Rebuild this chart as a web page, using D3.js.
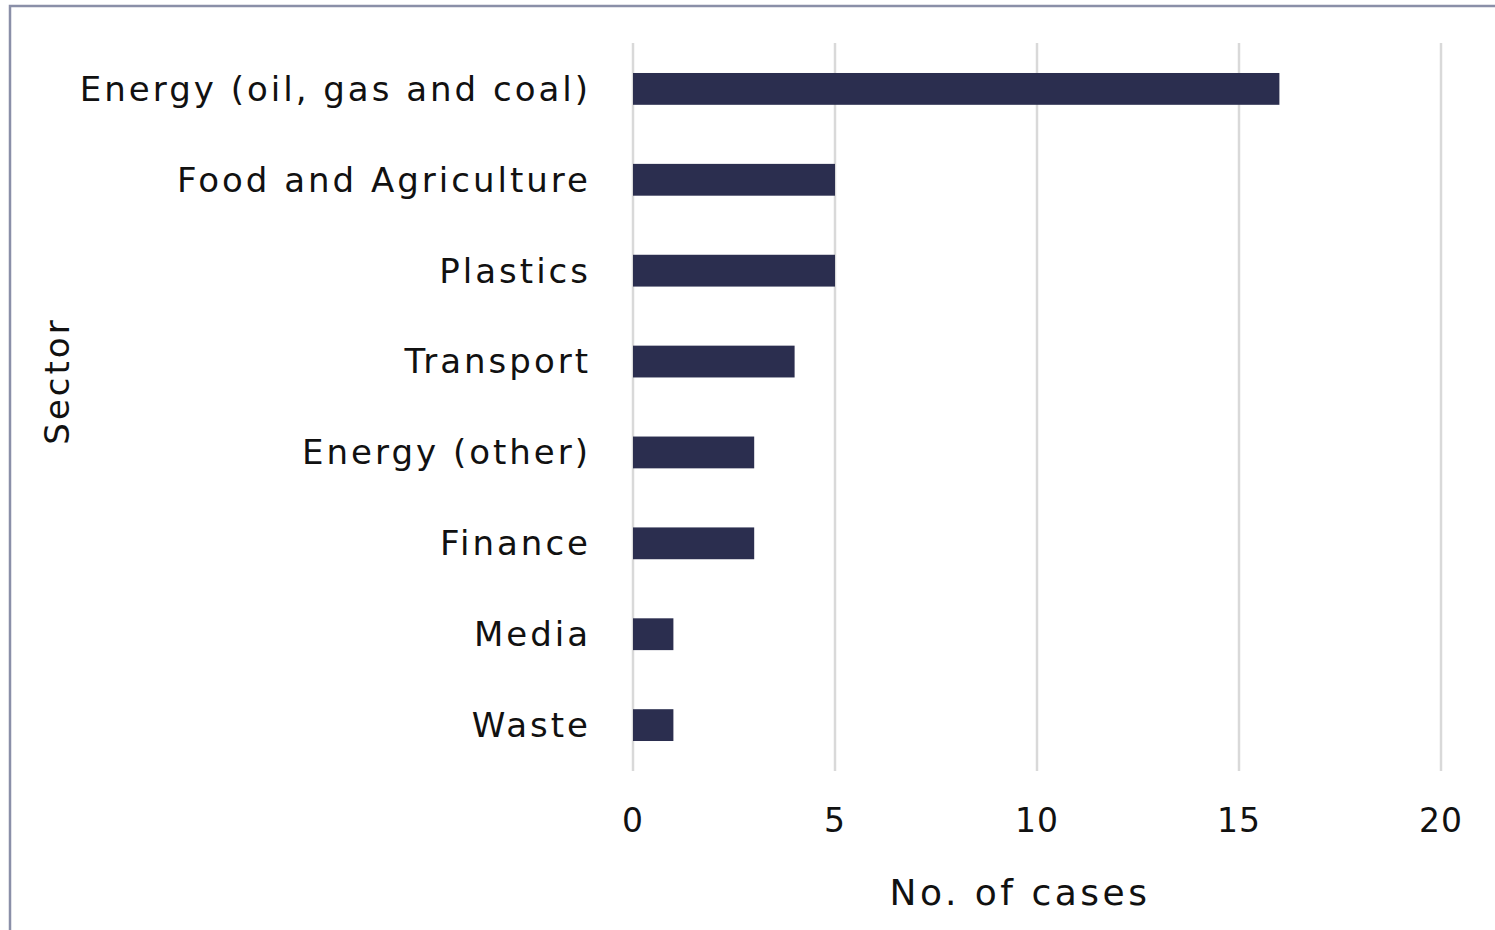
<!DOCTYPE html>
<html>
<head>
<meta charset="utf-8">
<script src="https://cdn.jsdelivr.net/npm/d3@7"></script>
<style>
  body { margin: 0; background: #fff; }
  svg text { font-family: "DejaVu Sans", "Open Sans", sans-serif; fill: #111; }
</style>
</head>
<body>
<script>
// sectors and number of cases
const sectors = ["Energy (oil, gas and coal)", "Food and Agriculture", "Plastics", "Transport",
                 "Energy (other)", "Finance", "Media", "Waste"];
const cases = [16, 5, 5, 4, 3, 3, 1, 1];
const xTicks = [0, 5, 10, 15, 20];

const w = 1495, h = 930;
const margin = {left: 633, right: 54, top: 43, bottom: 159};

const svg = d3.select("body").append("svg")
  .attr("width", w)
  .attr("height", h);

// outer frame (only top and left show in the picture)
svg.append("rect")
  .attr("x", 10).attr("y", 6)
  .attr("width", w + 20).attr("height", h + 20)
  .attr("fill", "none")
  .attr("stroke", "#8a8fa8")
  .attr("stroke-width", 2.5);

const x = d3.scaleLinear()
  .domain([0, 20])
  .range([margin.left, w - margin.right]);

const y = d3.scaleBand()
  .domain(sectors)
  .range([margin.top, h - margin.bottom])
  .paddingInner(0.65)
  .paddingOuter(0.33);

// gridlines
svg.append("g")
  .selectAll("line")
  .data(xTicks)
  .join("line")
  .attr("x1", d => x(d)).attr("x2", d => x(d))
  .attr("y1", margin.top).attr("y2", h - margin.bottom)
  .attr("stroke", "#d9d9d9")
  .attr("stroke-width", 2.5);

// bars
svg.append("g")
  .selectAll("rect")
  .data(sectors)
  .join("rect")
  .attr("x", x(0))
  .attr("y", d => y(d))
  .attr("width", (d, i) => x(cases[i]) - x(0))
  .attr("height", y.bandwidth())
  .attr("fill", "#2b2e4f");

// category labels
svg.append("g")
  .selectAll("text")
  .data(sectors)
  .join("text")
  .attr("x", margin.left - 42)
  .attr("y", d => y(d) + y.bandwidth() / 2)
  .attr("dy", "0.35em")
  .attr("text-anchor", "end")
  .attr("font-size", 34)
  .attr("letter-spacing", 3)
  .text(d => d);

// x tick labels
svg.append("g")
  .selectAll("text")
  .data(xTicks)
  .join("text")
  .attr("x", d => x(d))
  .attr("y", 820)
  .attr("dy", "0.35em")
  .attr("text-anchor", "middle")
  .attr("font-size", 33)
  .attr("letter-spacing", 1)
  .text(d => d);

// axis titles
svg.append("text")
  .attr("x", 1020).attr("y", 892)
  .attr("dy", "0.35em")
  .attr("text-anchor", "middle")
  .attr("font-size", 36)
  .attr("letter-spacing", 3.5)
  .text("No. of cases");

svg.append("text")
  .attr("transform", "translate(57,381) rotate(-90)")
  .attr("dy", "0.35em")
  .attr("text-anchor", "middle")
  .attr("font-size", 34)
  .attr("letter-spacing", 3)
  .text("Sector");
</script>
</body>
</html>
